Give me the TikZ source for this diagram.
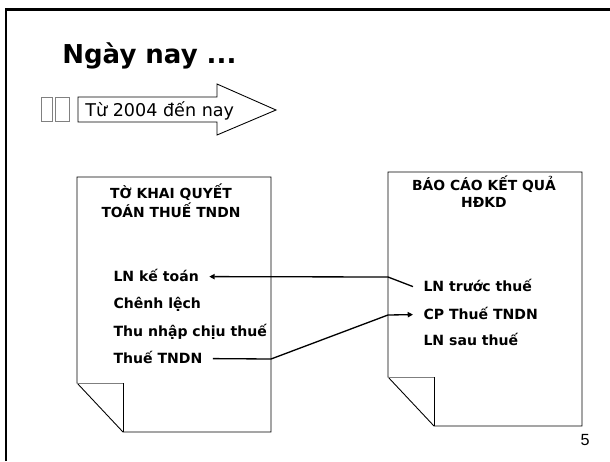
\documentclass[tikz,border=0pt]{standalone}
\usepackage{fontspec}
\setmainfont{DejaVu Sans}
\newfontfamily\pagefont{Liberation Sans}
\usetikzlibrary{arrows.meta}
\definecolor{foldGray}{HTML}{7F7F7F}
\definecolor{boxGray}{HTML}{808080}

\tikzset{
  item/.style={font=\fontsize{8}{9}\selectfont\bfseries, inner sep=0pt, outer sep=6pt,
               text height=7pt, text depth=2pt, anchor=base west},
  doctitle/.style={font=\fontsize{7.9}{9.4}\selectfont\bfseries, align=center, anchor=base},
  link/.style={-{Triangle[length=3pt, width=3pt]}, line width=0.75pt},
  sheet/.style={draw, line width=0.5pt, fill=white},
}

\begin{document}
\begin{tikzpicture}[x=0.02cm, y=-0.02cm]
  \useasboundingbox (0,0) rectangle (610,461);
  % slide frame
  \draw[line width=1.7pt] (6,461) -- (6,9) -- (610,9);
  \node[font=\fontsize{14.8}{17}\selectfont\bfseries, anchor=base west, inner sep=0pt]
    (title) at (62,63) {Ngày nay ...};

  % missing bullets + period arrow
  \draw[boxGray, line width=0.4pt] (41,97) rectangle (52,121);
  \draw[boxGray, line width=0.4pt] (55,97) rectangle (69,121);
  \draw[line width=0.5pt] (78,97) -- (217,97) -- (217,84) -- (276,110)
    -- (217,135) -- (217,122) -- (78,122) -- cycle;
  \node[font=\fontsize{10}{12}\selectfont, anchor=base west, inner sep=0pt]
    (period) at (85,116) {Từ 2004 đến nay};

  % tax return sheet
  \draw[sheet] (77,177) -- (271,177) -- (271,432) -- (123,432) -- (77,383) -- cycle;
  \draw[foldGray, line width=0.5pt] (77,383) -- (123,383);
  \draw[line width=0.5pt] (123,383) -- (123,432);
  \node[doctitle] (tktitle) at (171,217) {TỜ KHAI QUYẾT\\TOÁN THUẾ TNDN};
  \node[item] (lnkt) at (103,281) {LN kế toán};
  \node[item] (cl) at (103,308) {Chênh lệch};
  \node[item] (tnct) at (103,336) {Thu nhập chịu thuế};
  \node[item] (tndn) at (103,363) {Thuế TNDN};

  % income statement sheet
  \draw[sheet] (388,172) -- (582,172) -- (582,426) -- (434,426) -- (388,377) -- cycle;
  \draw[foldGray, line width=0.5pt] (388,377) -- (434,377);
  \draw[line width=0.5pt] (434,377) -- (434,426);
  \node[doctitle] (kqtitle) at (484,207) {BÁO CÁO KẾT QUẢ\\HĐKD};
  \node[item] (lntt) at (413,291) {LN trước thuế};
  \node[item] (cptndn) at (413,319) {CP Thuế TNDN};
  \node[item] (lnst) at (413,345) {LN sau thuế};

  % links between the two sheets
  \coordinate (b1) at (388,277);
  \coordinate (b2) at (271,359);
  \coordinate (b3) at (388,315);
  \draw[link] (lntt.west) -- (b1) -- (lnkt.east);
  \draw[link] (tndn.east) -- (b2) -- (b3) -- (cptndn.west);

  \node[font=\pagefont\fontsize{9.2}{10}\selectfont, anchor=base, inner sep=0pt]
    (pagenum) at (585,445) {5};
\end{tikzpicture}
\end{document}
